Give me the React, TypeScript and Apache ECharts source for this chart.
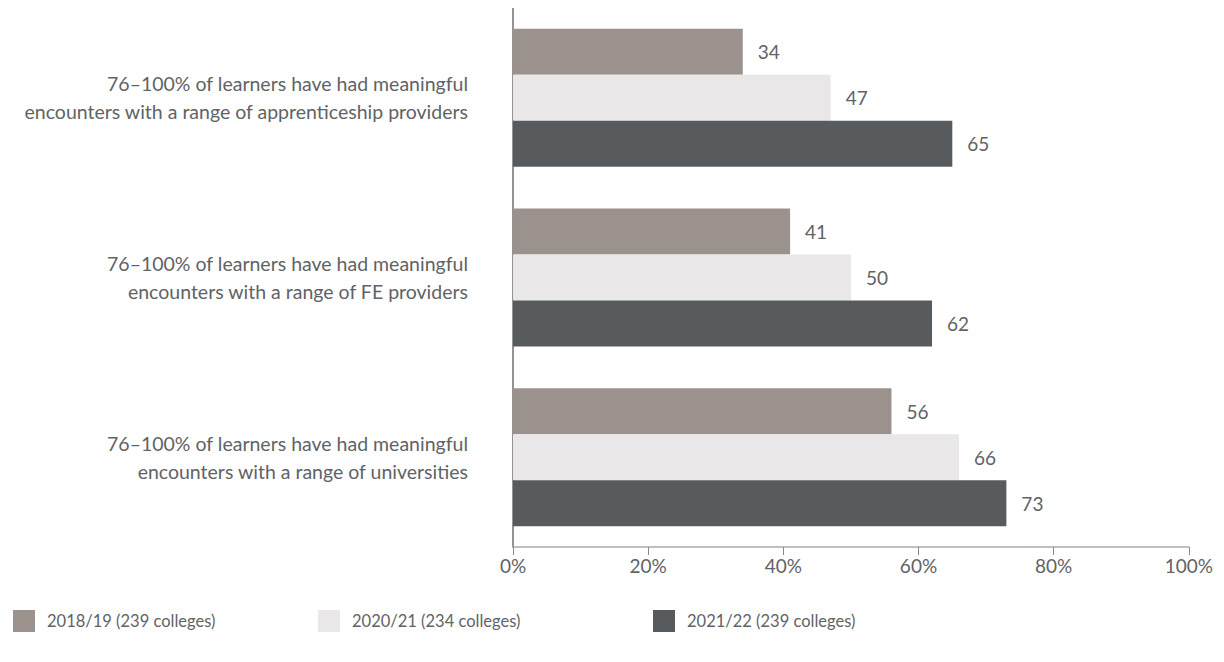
import React, { useEffect, useRef } from "react";
import * as echarts from "echarts";

const categories = [
  "76–100% of learners have had meaningful\nencounters with a range of apprenticeship providers",
  "76–100% of learners have had meaningful\nencounters with a range of FE providers",
  "76–100% of learners have had meaningful\nencounters with a range of universities",
];
const seriesNames = ["2018/19 (239 colleges)", "2020/21 (234 colleges)", "2021/22 (239 colleges)"];
const values2018 = [34, 41, 56];
const values2020 = [47, 50, 66];
const values2021 = [65, 62, 73];
const colors = ["#9b928e", "#e9e7e7", "#575b5e"];
const legendLefts = [0, 305, 640];

const FONT = "Lato, 'Open Sans', sans-serif";
const TEXT = "#5f6366";

export default function App() {
  const ref = useRef<HTMLDivElement>(null);
  useEffect(() => {
    if (!ref.current) return;
    const chart = echarts.init(ref.current, undefined, { renderer: "svg" });
    const allValues = [values2018, values2020, values2021];
    chart.setOption({
      animation: false,
      textStyle: { fontFamily: FONT },
      color: colors,
      grid: { left: 505, right: 18, top: 0, bottom: 107, containLabel: false },
      legend: seriesNames.map((name, i) => ({
        left: legendLefts[i],
        top: 597,
        itemWidth: 22,
        itemHeight: 22,
        icon: "rect",
        data: [name],
        selectedMode: false,
        textStyle: { fontFamily: FONT, fontSize: 16.5, color: TEXT, padding: [0, 0, 0, 7] },
      })),
      xAxis: {
        type: "value",
        min: 0,
        max: 100,
        interval: 20,
        axisLine: { show: true, lineStyle: { color: "#ababab", width: 1.5 } },
        axisTick: { show: true, length: 8, lineStyle: { color: "#8a8a8a" } },
        splitLine: { show: false },
        axisLabel: {
          formatter: "{value}%",
          fontFamily: FONT,
          fontSize: 19,
          color: TEXT,
          margin: 9,
        },
      },
      yAxis: {
        type: "category",
        inverse: true,
        data: categories,
        axisLine: { show: true, lineStyle: { color: "#6f6f6f", width: 1.5 } },
        axisTick: { show: false },
        axisLabel: {
          fontFamily: FONT,
          fontSize: 19.5,
          color: TEXT,
          margin: 45,
          lineHeight: 28,
          align: "right",
        },
      },
      series: seriesNames.map((name, i) => ({
        name,
        type: "bar",
        data: allValues[i],
        barWidth: 46,
        barGap: "0%",
        itemStyle: { color: colors[i] },
        label: {
          show: true,
          position: "right",
          distance: 15,
          fontFamily: FONT,
          fontSize: 19,
          color: TEXT,
        },
      })),
    });
    return () => chart.dispose();
  }, []);
  return <div ref={ref} style={{ width: 1208, height: 646 }} />;
}
